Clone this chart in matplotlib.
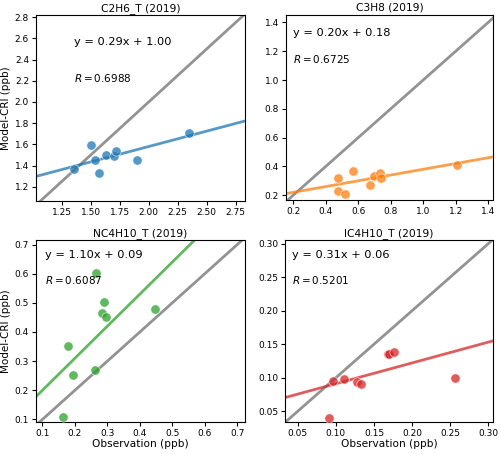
import numpy as np
import matplotlib
matplotlib.use("Agg")
import matplotlib.pyplot as plt

titles = ["C2H6_T (2019)", "C3H8 (2019)", "NC4H10_T (2019)", "IC4H10_T (2019)"]
colors = ["#1f77b4", "#ff7f0e", "#2ca02c", "#d62728"]

c2h6_obs = [1.356, 1.505, 1.534, 1.572, 1.632, 1.698, 1.715, 1.899, 2.345]
c2h6_mod = [1.367, 1.591, 1.450, 1.330, 1.500, 1.487, 1.535, 1.450, 1.710]

c3h8_obs = [0.478, 0.478, 0.518, 0.567, 0.672, 0.697, 0.736, 0.738, 1.206]
c3h8_mod = [0.318, 0.230, 0.211, 0.368, 0.270, 0.330, 0.352, 0.318, 0.407]

nc4_obs = [0.164, 0.178, 0.194, 0.263, 0.264, 0.282, 0.290, 0.297, 0.448]
nc4_mod = [0.107, 0.353, 0.253, 0.269, 0.601, 0.465, 0.503, 0.451, 0.479]

ic4_obs = [0.091, 0.096, 0.111, 0.128, 0.133, 0.168, 0.170, 0.177, 0.256]
ic4_mod = [0.040, 0.095, 0.098, 0.094, 0.091, 0.136, 0.136, 0.138, 0.100]

slopes = [0.29, 0.20, 1.10, 0.31]
intercepts = [1.00, 0.18, 0.09, 0.06]
r_values = [0.6988, 0.6725, 0.6087, 0.5201]

xlims = [(1.028, 2.83), (0.155, 1.43), (0.080, 0.724), (0.033, 0.3066)]
ylims = [(1.065, 2.82), (0.165, 1.452), (0.091, 0.716), (0.0337, 0.306)]
xticks = [[1.25, 1.5, 1.75, 2.0, 2.25, 2.5, 2.75],
          [0.2, 0.4, 0.6, 0.8, 1.0, 1.2, 1.4],
          [0.1, 0.2, 0.3, 0.4, 0.5, 0.6, 0.7],
          [0.05, 0.10, 0.15, 0.20, 0.25, 0.30]]
yticks = [[1.2, 1.4, 1.6, 1.8, 2.0, 2.2, 2.4, 2.6, 2.8],
          [0.2, 0.4, 0.6, 0.8, 1.0, 1.2, 1.4],
          [0.1, 0.2, 0.3, 0.4, 0.5, 0.6, 0.7],
          [0.05, 0.10, 0.15, 0.20, 0.25, 0.30]]
xfmt = ["{:.2f}", "{:.1f}", "{:.1f}", "{:.2f}"]
yfmt = ["{:.1f}", "{:.1f}", "{:.1f}", "{:.2f}"]

obs = [c2h6_obs, c3h8_obs, nc4_obs, ic4_obs]
mod = [c2h6_mod, c3h8_mod, nc4_mod, ic4_mod]

text_pos = [((0.18, 0.855), (0.18, 0.66)),
            ((0.035, 0.905), (0.035, 0.765)),
            ((0.045, 0.915), (0.045, 0.78)),
            ((0.035, 0.915), (0.035, 0.78))]

rects = [[0.072, 0.557, 0.418, 0.410],
         [0.572, 0.559, 0.414, 0.408],
         [0.072, 0.0705, 0.418, 0.401],
         [0.570, 0.0705, 0.416, 0.401]]

fig = plt.figure(figsize=(5.0, 4.54), dpi=100)
for i in range(4):
    ax = fig.add_axes(rects[i])
    x0, x1 = xlims[i]
    y0, y1 = ylims[i]
    lo = min(x0, y0)
    hi = max(x1, y1)
    ax.plot([lo, hi], [lo, hi], color="gray", lw=2.0, alpha=0.85, zorder=1)
    xx = np.array([x0, x1])
    ax.plot(xx, slopes[i] * xx + intercepts[i], color=colors[i], lw=2.0, alpha=0.75, zorder=2)
    ax.scatter(obs[i], mod[i], s=45, color=colors[i], alpha=0.75, edgecolors="white",
               linewidths=0.5, zorder=3)
    ax.set_xlim(x0, x1)
    ax.set_ylim(y0, y1)
    ax.set_xticks(xticks[i])
    ax.set_xticklabels([xfmt[i].format(v) for v in xticks[i]])
    ax.set_yticks(yticks[i])
    ax.set_yticklabels([yfmt[i].format(v) for v in yticks[i]])
    ax.tick_params(labelsize=6.5, length=3, width=0.8, pad=2)
    ax.set_title(titles[i], fontsize=7.7, pad=3)
    (tx1, ty1), (tx2, ty2) = text_pos[i]
    ax.text(tx1, ty1, "y = {:.2f}x + {:.2f}".format(slopes[i], intercepts[i]),
            transform=ax.transAxes, fontsize=8.2, va="center", ha="left")
    ax.text(tx2, ty2, r"$R = {:.4f}$".format(r_values[i]),
            transform=ax.transAxes, fontsize=7.5, va="center", ha="left")
    if i in (0, 2):
        ax.set_ylabel("Model-CRI (ppb)", fontsize=7.5, labelpad=3)
    if i in (2, 3):
        ax.set_xlabel("Observation (ppb)", fontsize=7.6, labelpad=1)

fig.savefig("out.png", dpi=100)
